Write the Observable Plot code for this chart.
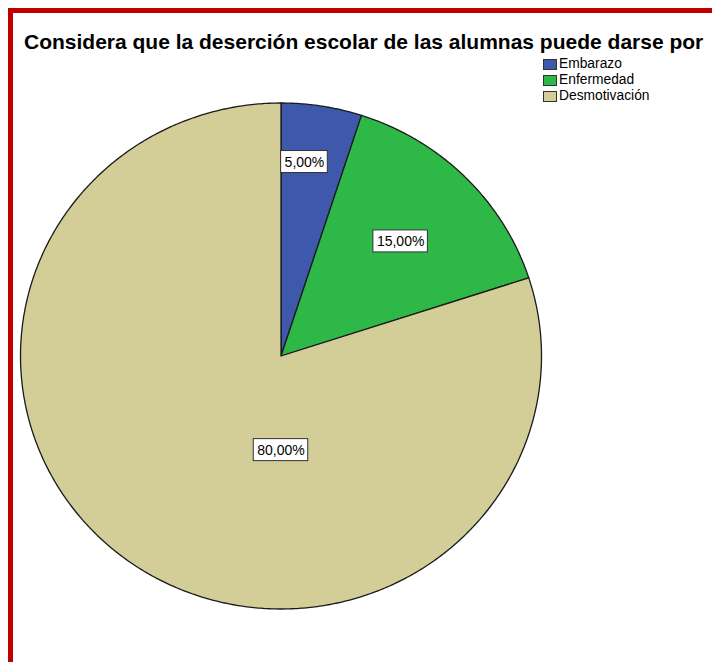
<!DOCTYPE html>
<html>
<head>
<meta charset="utf-8">
<script src="https://cdn.jsdelivr.net/npm/d3@7"></script>
<script src="https://cdn.jsdelivr.net/npm/@observablehq/plot@0.6"></script>
<style>
  html, body { margin: 0; padding: 0; background: #fff; }
  #wrap { position: relative; width: 712px; height: 662px; overflow: hidden; background: #fff; font-family: "Liberation Sans", Arial, sans-serif; }
  .bl { position: absolute; left: 8px; top: 8px; width: 5px; height: 660px; background: #c00000; }
  .bt { position: absolute; left: 8px; top: 8px; width: 710px; height: 5px; background: #c00000; }
  #title { position: absolute; left: 24px; top: 30px; font-weight: bold; font-size: 21px; line-height: 24px; color: #000; white-space: nowrap; }
  #legend { position: absolute; left: 543px; top: 59px; font-size: 13.8px; color: #000; }
  .row { position: relative; height: 16px; }
  .sw { position: absolute; left: 0; top: 0; width: 12px; height: 9px; border: 1px solid #333; }
  .lt { position: absolute; left: 16px; top: -3px; line-height: 16px; white-space: nowrap; }
  #chart { position: absolute; left: 0; top: 0; }
</style>
</head>
<body>
<div id="wrap">
  <div id="chart"></div>
  <div class="bl"></div>
  <div class="bt"></div>
  <div id="title"></div>
  <div id="legend"></div>
</div>
<script>
// ---- data ----
const title = "Considera que la deserción escolar de las alumnas puede darse por";
const categories = ["Embarazo", "Enfermedad", "Desmotivación"];
const percents = [5, 15, 80];
const valueLabels = ["5,00%", "15,00%", "80,00%"];
// ---- styles / layout ----
const colors = ["#3e58ac", "#2eb848", "#d3ce97"];
const labelAngles = [6.7, 45.4, 180];   // degrees clockwise from top
const labelRadii = [0.772, 0.645, 0.372]; // fraction of radius
const xRange = [20, 541], yRange = [608.5, 102.5];
const labelFont = "14px 'Liberation Sans', Arial, sans-serif";

document.getElementById("title").textContent = title;
const legend = document.getElementById("legend");
categories.forEach((c, i) => {
  const row = document.createElement("div");
  row.className = "row";
  row.innerHTML = `<div class="sw" style="background:${colors[i]}"></div><div class="lt">${c}</div>`;
  legend.appendChild(row);
});

// build slice polygons from the percentages
const total = d3.sum(percents);
const slicePts = [];
let cum = 0;
categories.forEach((c, i) => {
  const a0 = cum / total * 360;
  cum += percents[i];
  const a1 = cum / total * 360;
  slicePts.push({name: c, x: 0, y: 0});
  const n = Math.max(2, Math.ceil((a1 - a0) / 0.5));
  for (let k = 0; k <= n; k++) {
    const a = (a0 + (a1 - a0) * k / n) * Math.PI / 180;
    slicePts.push({name: c, x: Math.sin(a), y: Math.cos(a)});
  }
  slicePts.push({name: c, x: 0, y: 0});
});

// label boxes: measure text width, convert pixel padding to data units
const ctx = document.createElement("canvas").getContext("2d");
ctx.font = labelFont;
const kx = 2 / (xRange[1] - xRange[0]);
const ky = 2 / (yRange[0] - yRange[1]);
const labelData = categories.map((c, i) => {
  const a = labelAngles[i] * Math.PI / 180;
  const x = labelRadii[i] * Math.sin(a), y = labelRadii[i] * Math.cos(a);
  const w = ctx.measureText(valueLabels[i]).width + 7;
  const h = 22;
  return {name: c, text: valueLabels[i], x, y,
    x1: x - w / 2 * kx, x2: x + w / 2 * kx, y1: y - h / 2 * ky, y2: y + h / 2 * ky};
});

const plot = Plot.plot({
  width: 712,
  height: 662,
  margin: 0,
  x: {domain: [-1, 1], range: xRange, axis: null},
  y: {domain: [-1, 1], range: yRange, axis: null},
  color: {domain: categories, range: colors},
  style: {background: "transparent", fontFamily: "'Liberation Sans', Arial, sans-serif"},
  marks: [
    Plot.line(slicePts, {x: "x", y: "y", z: "name", fill: "name", stroke: "#1a1a1a", strokeWidth: 1.3, curve: "linear", strokeLinejoin: "round"}),
    Plot.rect(labelData, {x1: "x1", x2: "x2", y1: "y1", y2: "y2", fill: "#fff", stroke: "#333", strokeWidth: 1}),
    Plot.text(labelData, {x: "x", y: "y", text: "text", fontSize: 14, fill: "#000"})
  ]
});
document.getElementById("chart").appendChild(plot);
</script>
</body>
</html>
